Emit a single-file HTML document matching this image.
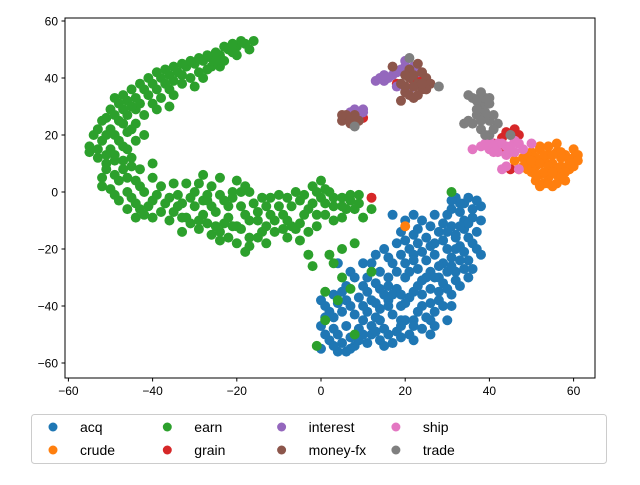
<!DOCTYPE html>
<html><head><meta charset="utf-8"><style>
body{margin:0;background:#fff;width:640px;height:480px;overflow:hidden;font-family:"Liberation Sans",sans-serif}
svg text{font-family:"Liberation Sans",sans-serif}
</style></head><body>
<svg id="chart" width="640" height="480">
<defs><clipPath id="clip"><rect x="65" y="18" width="530" height="360"/></clipPath></defs>
<g id="points" clip-path="url(#clip)"></g>
<rect x="65" y="18" width="530" height="360" fill="none" stroke="#000" stroke-width="1"/>
<g id="axes"></g>
<g id="legend"></g>
</svg>
<script>
const categories = ["acq","crude","earn","grain","interest","money-fx","ship","trade"];
const colors = ["#1f77b4","#ff7f0e","#2ca02c","#d62728","#9467bd","#8c564b","#e377c2","#7f7f7f"];
const xTicks = [-60,-40,-20,0,20,40,60];
const yTicks = [-60,-40,-20,0,20,40,60];
const acq = [[0,-38],[3,-36],[6,-38],[9,-37],[12,-38],[15,-36],[2,-42],[5,-42],[8,-43],[11,-42],[14,-41],[17,-43],[20,-45],[0,-47],[3,-48],[6,-47],[9,-48],[12,-47],[15,-48],[18,-49],[21,-50],[24,-48],[2,-52],[5,-53],[8,-54],[11,-53],[14,-52],[17,-53],[4,-56],[7,-55],[0,-55],[10,-33],[13,-32],[16,-30],[18,-34],[21,-37],[24,-40],[27,-42],[22,-45],[25,-44],[28,-38],[31,-36],[33,-33],[35,-30],[20,-30],[23,-33],[26,-34],[29,-32],[32,-28],[17,-25],[20,-25],[23,-27],[26,-28],[29,-25],[35,-24],[38,-22],[15,-20],[18,-18],[21,-20],[24,-21],[27,-22],[30,-20],[33,-19],[36,-18],[22,-15],[25,-16],[28,-14],[31,-12],[34,-13],[37,-14],[30,-8],[33,-7],[36,-6],[32,-2],[34,-10],[38,-10],[24,-10],[27,-8],[19,-14],[13,-22],[10,-25],[14,-28],[7,-28],[30,-45],[26,-50],[4,-25],[38,-5],[17,-8],[19,-40],[22,-22],[28,-30],[31,-40],[6,-33],[3,-44],[16,-38],[24,-36],[27,-18],[34,-4],[32,-16],[25,-30],[12,-50],[19,-45],
[1,-40],[4,-39],[7,-40],[10,-40],[13,-39],[16,-40],[1,-50],[4,-50],[7,-51],[10,-50],[13,-49],[16,-50],[19,-51],[22,-52],[3,-54],[6,-56],[9,-52],[15,-54],[1,-44],[10,-45],[13,-44],[19,-47],[22,-47],[11,-35],[14,-34],[17,-36],[20,-39],[23,-42],[26,-39],[29,-40],[26,-45],[28,-35],[30,-34],[32,-31],[34,-27],[22,-35],[19,-36],[16,-33],[18,-28],[21,-28],[24,-31],[27,-30],[30,-28],[31,-23],[34,-21],[37,-20],[16,-23],[19,-22],[22,-24],[25,-24],[28,-26],[31,-26],[20,-17],[23,-18],[26,-19],[29,-17],[32,-15],[35,-16],[35,-11],[36,-9],[33,-12],[30,-14],[26,-12],[23,-13],[29,-11],[31,-6],[33,-4],[35,-2],[37,-3],[31,-3],[20,-10],[22,-8],[12,-25],[11,-30],[8,-30],[5,-35],[14,-45],[27,-47],[33,-24],[36,-27],[32,-20]];
const crude = [[48,12],[50,14],[52,15],[54,16],[56,14],[58,13],[60,12],[49,10],[51,9],[53,11],[55,10],[57,9],[59,8],[52,6],[54,5],[56,6],[58,4],[53,3],[55,2],[51,4],[47,8],[50,7],[57,12],[20,-12],[46,11],[54,13],[60,15],
[49,13],[51,12],[53,13],[55,13],[57,14],[59,11],[61,13],[50,11],[52,10],[54,9],[56,8],[58,7],[60,9],[53,7],[55,7],[57,5],[51,6],[49,8],[52,2],[54,3],[56,3],[48,9],[59,10],[61,11],[52,16],[56,17]];
const earn = [[-16,53],[-18,52],[-20,51],[-17,50],[-22,50],[-20,48],[-24,48],[-26,47],[-23,46],[-28,46],[-30,45],[-26,44],[-32,44],[-29,42],[-34,42],[-36,41],[-31,40],[-38,40],[-33,38],[-40,38],[-36,36],[-42,36],[-28,40],[-30,37],[-38,33],[-44,33],[-46,32],[-40,31],[-48,31],[-35,34],[-44,29],[-50,29],[-46,27],[-42,27],[-48,25],[-52,25],[-44,24],[-50,22],[-46,21],[-54,20],[-52,18],[-48,18],[-44,18],[-55,16],[-50,15],[-46,15],[-53,12],[-49,11],[-45,12],[-51,8],[-47,8],[-43,8],[-52,5],[-48,4],[-44,4],[-40,5],[-50,1],[-46,0],[-42,0],[-38,2],[-48,-3],[-44,-4],[-40,-3],[-36,-2],[-46,-6],[-42,-8],[-38,-7],[-34,-5],[-36,-10],[-32,-9],[-30,-5],[-28,-8],[-26,-5],[-33,-14],[-29,-13],[-25,-12],[-22,-9],[-30,0],[-26,2],[-28,6],[-32,3],[-24,-1],[-22,-5],[-20,-12],[-18,-8],[-16,-4],[-15,-10],[-20,-18],[-17,-16],[-14,-14],[-12,-8],[-10,-5],[-8,-10],[-11,-14],[-13,-18],[-18,-21],[-22,-16],[-6,-13],[-4,-8],[-2,-4],[0,-2],[2,0],[-2,2],[0,4],[3,-5],[5,-2],[7,-1],[9,-1],[6,-6],[3,-10],[1,-8],[-1,-12],[-5,-17],[-3,-22],[-2,-26],[-8,-16],[8,-6],[12,-6],[10,-9],[5,-9],[-6,0],[-10,-1],[-14,-2],[-18,2],[-24,5],[-20,4],[2,-22],[5,-20],[8,-18],[3,-25],[5,-30],[12,-28],[1,-35],[7,-34],[1,-45],[-1,-54],[8,-50],[31,0],[4,-38],[-24,-14],[-28,-3],[-34,-1],[-40,10],[-42,20],[-36,30],[-24,44],
[-19,53],[-21,52],[-23,51],[-25,49],[-27,48],[-29,47],[-31,46],[-33,45],[-35,44],[-37,43],[-39,42],[-41,40],[-43,38],[-45,36],[-47,34],[-49,33],[-21,49],[-25,46],[-27,43],[-33,41],[-35,39],[-37,38],[-39,36],[-41,34],[-43,31],[-39,29],[-45,30],[-47,29],[-49,27],[-51,26],[-47,24],[-49,20],[-51,20],[-53,22],[-45,22],[-47,16],[-49,13],[-51,13],[-53,15],[-55,14],[-51,10],[-47,11],[-45,9],[-49,6],[-46,5],[-43,2],[-45,-2],[-41,-5],[-39,-1],[-37,-4],[-35,-7],[-33,-9],[-31,-11],[-29,-10],[-27,-11],[-31,-2],[-33,-4],[-35,3],[-29,3],[-27,-1],[-23,-3],[-25,-7],[-21,-2],[-19,-5],[-17,-10],[-15,-7],[-13,-5],[-11,-10],[-9,-8],[-7,-5],[-5,-3],[-3,-6],[-1,-8],[1,-4],[3,-2],[5,-5],[7,-3],[9,-4],[-19,-13],[-21,-12],[-23,-11],[-17,-19],[-15,-16],[-13,-12],[-9,-13],[-7,-12],[-5,-11],[-3,-14],[-21,0],[-19,0],[-17,0],[-12,-2],[-8,-2],[-4,-1],[-1,0],[1,1],[-26,-15],[-24,-17],[-27,-3],[-43,-6],[-40,-9],[-44,-9],[-49,-1],[-52,2]];
const grain = [[12,-2],[10,26],[41,17],[43,19],[44,21],[46,22],[47,20],[43,15],[22,39],[24,40],[18,38],[45,8]];
const interest = [[15,39],[17,41],[19,43],[20,46],[22,44],[18,37],[14,40],[23,42],[10,29],[9,27],[7,28],[21,36],[16,40],[18,42],[13,39],[15,41],[20,44],[8,29],[10,28]];
const moneyFx = [[19,38],[21,40],[23,38],[25,40],[20,35],[22,33],[24,36],[26,38],[19,32],[21,43],[23,45],[25,36],[8,27],[6,26],[5,25],[9,25],[7,24],[17,44],[20,37],[22,37],[24,38],[20,41],[22,41],[24,42],[21,34],[23,34],[6,27],[8,26],[7,25],[5,27]];
const ship = [[38,16],[40,18],[42,17],[44,16],[46,18],[48,15],[45,14],[42,14],[40,15],[50,17],[44,9],[47,8],[36,15],[39,17],[41,16],[43,17],[45,16],[47,17],[44,13],[46,14],[41,14],[43,8]];
const trade = [[36,33],[38,34],[40,33],[38,30],[39,28],[37,27],[40,25],[36,24],[34,24],[42,24],[38,22],[40,20],[45,20],[21,47],[8,23],[28,37],[39,31],[35,34],[37,32],[39,33],[38,35],[40,31],[37,29],[39,26],[38,25],[41,27],[35,25],[41,22],[39,20]];
const series = [acq,crude,earn,grain,interest,moneyFx,ship,trade];

const NS="http://www.w3.org/2000/svg";
function xs(v){return 321+v*4.21;}
function ys(v){return 192-v*2.85;}
function mk(tag,attrs,parent){const e=document.createElementNS(NS,tag);for(const k in attrs)e.setAttribute(k,attrs[k]);parent.appendChild(e);return e;}
const pg=document.getElementById('points');
series.forEach((s,si)=>{
  s.forEach((p,i)=>{
    const c=mk('circle',{cx:xs(p[0]),cy:ys(p[1]),r:5,fill:colors[si]},pg);
    
    
  });
});
const ax=document.getElementById('axes');
xTicks.forEach(t=>{
  const x=xs(t);
  const l=mk('line',{x1:x,x2:x,y1:378,y2:381.5,stroke:'#000'},ax);
  
  
  const tx=mk('text',{x:x,y:395,'font-size':12,'text-anchor':'middle'},ax);
  tx.textContent=(t<0?'\u2212'+(-t):t);
  
  
});
yTicks.forEach(t=>{
  const y=ys(t);
  const l=mk('line',{x1:61.5,x2:65,y1:y,y2:y,stroke:'#000'},ax);
  
  
  const tx=mk('text',{x:58,y:y+4.5,'font-size':12,'text-anchor':'end'},ax);
  tx.textContent=(t<0?'\u2212'+(-t):t);
  
  
});
const lg=document.getElementById('legend');
const box=mk('rect',{x:31.5,y:414.5,width:575,height:49,rx:3,fill:'#fff',stroke:'#ccc'},lg);


categories.forEach((c,i)=>{
  const col=Math.floor(i/2), row=i%2;
  const mx=53+col*114.3, my=427+row*23;
  const m=mk('circle',{cx:mx,cy:my,r:4.5,fill:colors[i]},lg);
  
  
  const t=mk('text',{x:mx+27,y:my+5,'font-size':14},lg);
  t.textContent=c;
  
  
});
</script>
</body></html>
